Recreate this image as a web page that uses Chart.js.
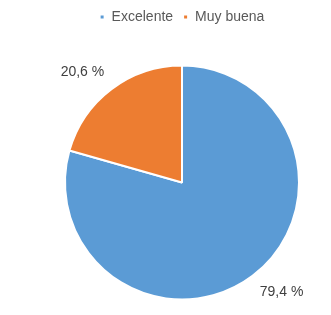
<!DOCTYPE html>
<html>
<head>
<meta charset="utf-8">
<script src="https://cdn.jsdelivr.net/npm/chart.js@4/dist/chart.umd.min.js"></script>
<style>
  html, body { margin: 0; padding: 0; background: #fff; }
  #wrap { width: 331px; height: 315px; }
</style>
</head>
<body>
<div id="wrap"><canvas id="my_chart" width="331" height="315"></canvas></div>
<script>
  // datos del gráfico
  var categories = ['Excelente', 'Muy buena'];
  var values = [79.4, 20.6];
  var valueLabels = ['79,4 %', '20,6 %'];
  var colors = ['#5B9BD5', '#ED7D31'];

  // más espacio debajo de la leyenda
  var legendSpace = {
    id: 'legendSpace',
    beforeInit(chart) {
      var fit = chart.legend.fit;
      chart.legend.fit = function() {
        fit.bind(chart.legend)();
        this.height += 16;
      };
    }
  };

  // etiquetas fuera de cada porción (esquina del texto junto al borde)
  var outsideLabels = {
    id: 'outsideLabels',
    afterDatasetsDraw(chart) {
      var ctx = chart.ctx;
      var meta = chart.getDatasetMeta(0);
      ctx.save();
      ctx.font = '14px "Liberation Sans", Arial, sans-serif';
      ctx.fillStyle = '#404040';
      meta.data.forEach(function(arc, i) {
        var mid = (arc.startAngle + arc.endAngle) / 2;
        var r = arc.outerRadius + 12;
        var dx = Math.cos(mid), dy = Math.sin(mid);
        var px = arc.x + dx * r;
        var py = arc.y + dy * r;
        ctx.textAlign = dx < 0 ? 'right' : 'left';
        ctx.textBaseline = dy < 0 ? 'bottom' : 'top';
        ctx.fillText(valueLabels[i], px, py);
      });
      ctx.restore();
    }
  };

  var ctx = document.getElementById('my_chart').getContext('2d');
  var myChart = new Chart(ctx, {
    type: 'pie',
    data: {
      labels: categories,
      datasets: [{
        data: values,
        backgroundColor: colors,
        borderColor: '#ffffff',
        borderWidth: 2
      }]
    },
    options: {
      responsive: false,
      animation: false,
      radius: 117,
      layout: { padding: { left: 33, right: 0, top: 0, bottom: 0 } },
      plugins: {
        legend: {
          position: 'top',
          labels: {
            boxWidth: 5,
            boxHeight: 5,
            padding: 10,
            color: '#595959',
            font: { family: '"Liberation Sans", Arial, sans-serif', size: 14 }
          }
        },
        tooltip: { enabled: false }
      }
    },
    plugins: [legendSpace, outsideLabels]
  });
</script>
</body>
</html>
